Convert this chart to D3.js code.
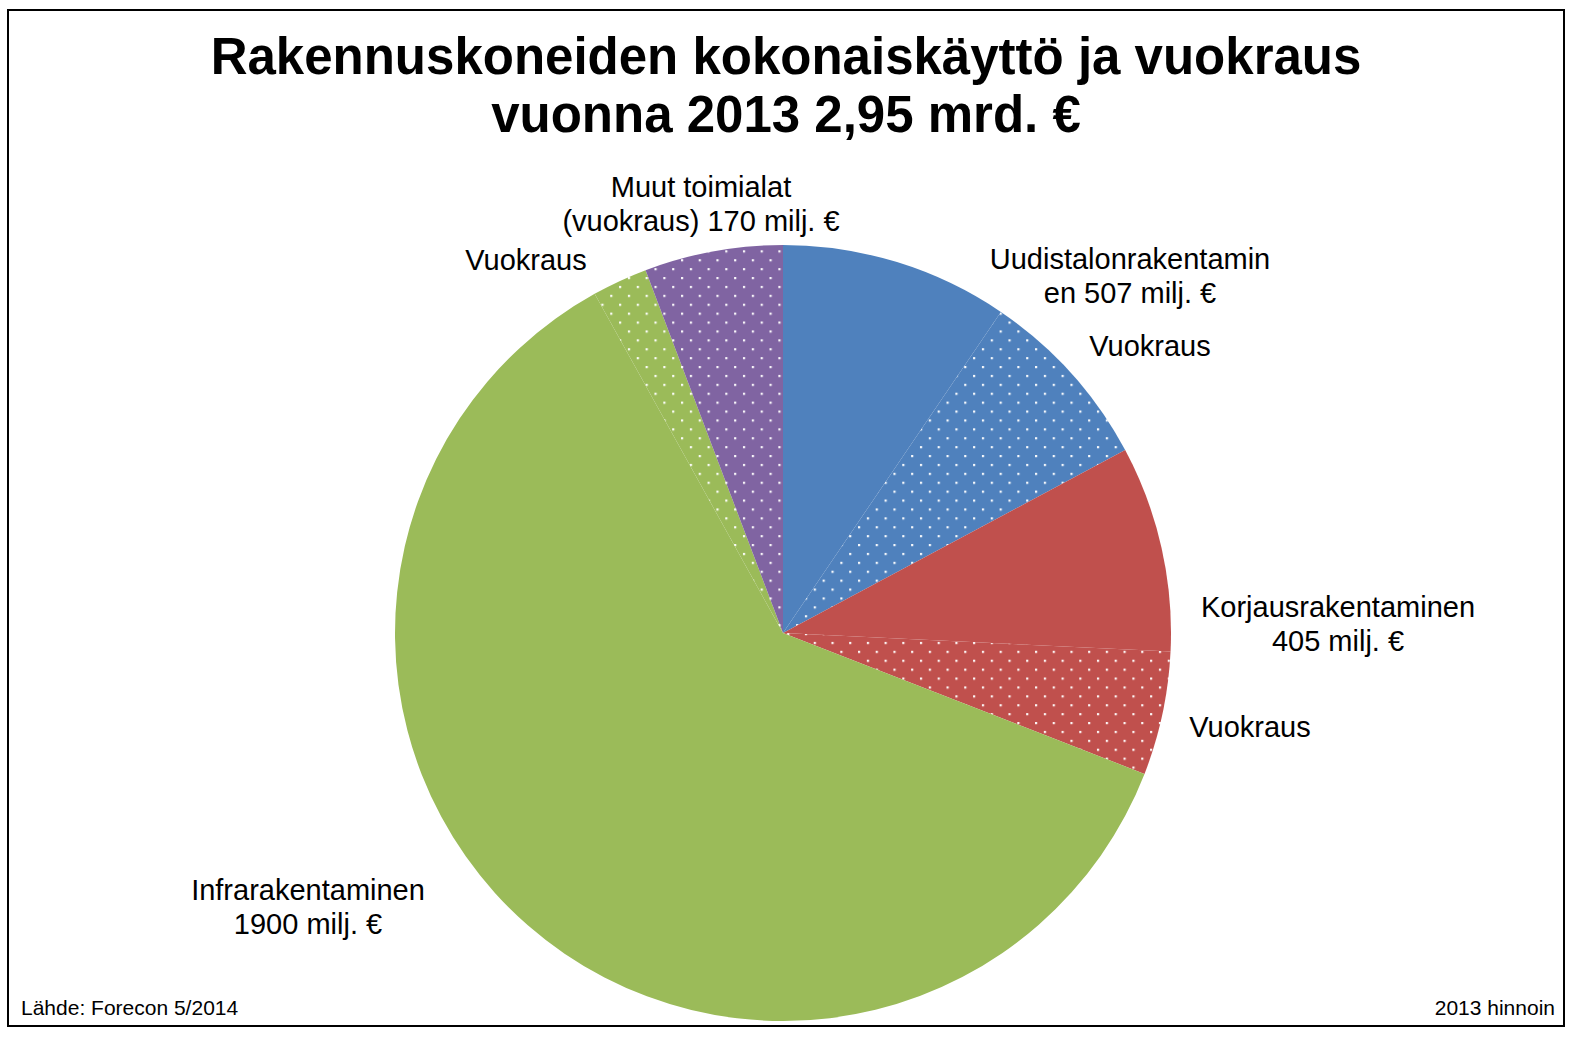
<!DOCTYPE html>
<html>
<head>
<meta charset="utf-8">
<script src="https://cdn.jsdelivr.net/npm/d3@7"></script>
<style>
  html, body { margin: 0; padding: 0; background: #fff; }
  svg { display: block; }
  text { font-family: "Liberation Sans", Arial, sans-serif; fill: #000; }
</style>
</head>
<body>
<svg id="chart" width="1577" height="1037"></svg>
<script>
// ---- Data ----
const titleLines = ["Rakennuskoneiden kokonaiskäyttö ja vuokraus", "vuonna 2013 2,95 mrd. €"];
const categories = [
  "Uudistalonrakentaminen",
  "Uudistalonrakentaminen vuokraus",
  "Korjausrakentaminen",
  "Korjausrakentaminen vuokraus",
  "Infrarakentaminen",
  "Infrarakentaminen vuokraus",
  "Muut toimialat (vuokraus)"
];
const values = [280, 227, 253, 152, 1800, 68, 170];   // milj. €
const groups = ["uudis", "uudis", "korjaus", "korjaus", "infra", "infra", "muut"];
const rental = [false, true, false, true, false, true, true];
const labelTexts = [
  ["Uudistalonrakentamin", "en 507 milj. €"],
  ["Vuokraus"],
  ["Korjausrakentaminen", "405 milj. €"],
  ["Vuokraus"],
  ["Infrarakentaminen", "1900 milj. €"],
  ["Vuokraus"],
  ["Muut toimialat", "(vuokraus) 170 milj. €"]
];
const sourceText = "Lähde: Forecon 5/2014";
const noteText = "2013 hinnoin";

// ---- Layout / style ----
const W = 1577, H = 1037;
const cx = 783, cy = 633, R = 388;
const groupColor = { uudis: "#4F81BD", korjaus: "#C0504D", infra: "#9BBB59", muut: "#8064A2" };
// label anchor positions (centre x, first baseline y)
const labelPos = [
  [1130, 269], [1150, 356], [1338, 617], [1250, 737], [308, 900], [526, 270], [701, 197]
];
const lineH = 34;

const svg = d3.select("#chart");
svg.append("rect").attr("width", W).attr("height", H).attr("fill", "#fff");
svg.append("rect").attr("x", 8).attr("y", 10).attr("width", 1556).attr("height", 1016)
  .attr("fill", "none").attr("stroke", "#000").attr("stroke-width", 2);

// patterns
const defs = svg.append("defs");
Object.entries(groupColor).forEach(([k, c]) => {
  const p = defs.append("pattern").attr("id", "dot-" + k)
    .attr("patternUnits", "userSpaceOnUse").attr("width", 17.7).attr("height", 17.8)
    .attr("x", cx % 17.7).attr("y", 0);
  p.append("rect").attr("width", 17.7).attr("height", 17.8).attr("fill", c);
  p.append("rect").attr("x", 0).attr("y", 0).attr("width", 2.2).attr("height", 2.2).attr("fill", "#fff").attr("opacity", 0.95);
  p.append("rect").attr("x", 8.85).attr("y", 8.9).attr("width", 2.2).attr("height", 2.2).attr("fill", "#fff").attr("opacity", 0.95);
});

// title
svg.append("text").attr("x", 786).attr("y", 0).attr("text-anchor", "middle")
  .attr("font-size", 51).attr("font-weight", "bold")
  .selectAll("tspan").data(titleLines).join("tspan")
  .attr("x", 786).attr("y", (d, i) => 74 + i * 57.5).text(d => d);

// pie
const pie = d3.pie().sort(null).value(d => d).startAngle(0).endAngle(2 * Math.PI);
const arcs = pie(values);
const arc = d3.arc().innerRadius(0).outerRadius(R);
svg.append("g").attr("transform", `translate(${cx},${cy})`)
  .selectAll("path").data(arcs).join("path")
  .attr("d", arc)
  .attr("fill", (d, i) => rental[i] ? `url(#dot-${groups[i]})` : groupColor[groups[i]]);

// labels
const lg = svg.append("g");
labelTexts.forEach((lines, i) => {
  const t = lg.append("text").attr("text-anchor", "middle").attr("font-size", 29);
  lines.forEach((l, j) => {
    t.append("tspan").attr("x", labelPos[i][0]).attr("y", labelPos[i][1] + j * lineH).text(l);
  });
});

// footer
svg.append("text").attr("x", 21).attr("y", 1015).attr("font-size", 21).text(sourceText);
svg.append("text").attr("x", 1555).attr("y", 1015).attr("font-size", 21).attr("text-anchor", "end").text(noteText);
</script>
</body>
</html>
